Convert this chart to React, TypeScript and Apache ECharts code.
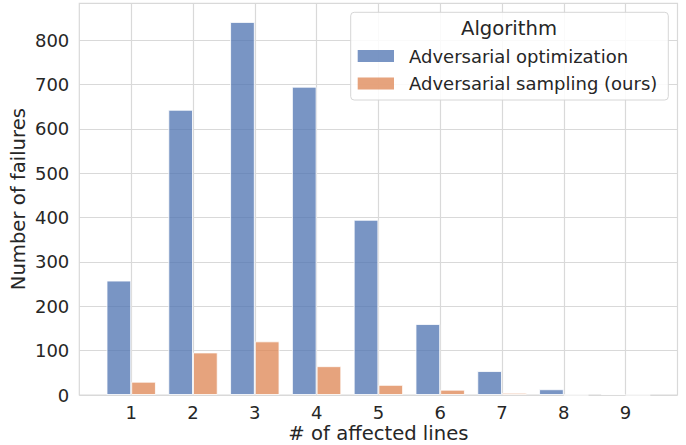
import React, { useEffect, useRef } from "react";
import * as echarts from "echarts";

const categories = [1, 2, 3, 4, 5, 6, 7, 8, 9];
const optimizationCounts = [258, 643, 841, 695, 395, 160, 54, 13, 2];
const samplingCounts = [30, 96, 121, 65, 23, 12, 5, 0, 0];
const seriesNames = ["Adversarial optimization", "Adversarial sampling (ours)"];
const yTicks = [0, 100, 200, 300, 400, 500, 600, 700, 800];

const W = 686;
const H = 445;
const GRID = { left: 79.3, right: 8.5, top: 3.3, bottom: 50 };
const X_MIN = 0.16;
const X_MAX = 9.84;
const Y_MAX = 883;
const FONT = "DejaVu Sans";
const TEXT = "#262626";
const GRIDC = "#d9d9d9";

export default function App() {
  const ref = useRef<HTMLDivElement>(null);
  useEffect(() => {
    document.body.style.margin = "0";
    const chart = echarts.init(ref.current!, null, { renderer: "svg" });
    const plotW = W - GRID.left - GRID.right;
    const barW = (0.4 * plotW) / (X_MAX - X_MIN);
    const mk = (vals: number[]) => categories.map((c, i) => [c, vals[i]]);
    chart.setOption({
      animation: false,
      backgroundColor: "#ffffff",
      textStyle: { fontFamily: FONT, color: TEXT },
      grid: {
        ...GRID,
        show: true,
        borderColor: GRIDC,
        borderWidth: 1.2,
        containLabel: false,
        outerBoundsMode: "none",
      },
      xAxis: {
        type: "value",
        min: X_MIN,
        max: X_MAX,
        name: "# of affected lines",
        nameLocation: "middle",
        nameMoveOverlap: false,
        nameGap: 28,
        nameTextStyle: { fontSize: 19.6, color: TEXT, fontFamily: FONT, lineHeight: 20 },
        axisLine: { show: false },
        axisTick: { show: false, customValues: categories },
        axisLabel: {
          customValues: categories,
          fontSize: 18,
          color: TEXT,
          fontFamily: FONT,
          margin: 8,
        },
        splitLine: { show: true, lineStyle: { color: GRIDC, width: 1.2 } },
      },
      yAxis: {
        type: "value",
        min: 0,
        max: Y_MAX,
        interval: 100,
        name: "Number of failures",
        nameLocation: "middle",
        nameMoveOverlap: false,
        nameGap: 50.5,
        nameTextStyle: { fontSize: 19.6, color: TEXT, fontFamily: FONT, lineHeight: 20 },
        axisLine: { show: false },
        axisTick: { show: false, customValues: yTicks },
        axisLabel: {
          customValues: yTicks,
          fontSize: 18,
          color: TEXT,
          fontFamily: FONT,
          margin: 10,
        },
        splitLine: { show: true, lineStyle: { color: GRIDC, width: 1.2 } },
      },
      legend: {
        orient: "vertical",
        left: 357.7,
        top: 46,
        padding: 0,
        itemWidth: 36.3,
        itemHeight: 12,
        itemGap: 7.5,
        icon: "rect",
        textStyle: {
          fontSize: 18,
          color: TEXT,
          fontFamily: FONT,
          lineHeight: 20,
          padding: [0, 0, 0, 10],
        },
        itemStyle: { borderWidth: 0 },
        data: seriesNames,
        z: 20,
      },
      graphic: [
        {
          type: "rect",
          z: 10,
          shape: { x: 350.7, y: 12.3, width: 317.6, height: 87.7, r: 3.5 },
          style: { fill: "rgba(255,255,255,0.85)", stroke: "#d6d6d6", lineWidth: 1 },
        },
        {
          type: "text",
          z: 11,
          x: 509,
          y: 28.3,
          style: {
            text: "Algorithm",
            fontSize: 19.6,
            fontFamily: FONT,
            fill: TEXT,
            align: "center",
            verticalAlign: "middle",
          },
        },
      ],
      series: [
        {
          name: seriesNames[0],
          type: "bar",
          data: mk(optimizationCounts),
          barWidth: barW,
          barGap: "0%",
          itemStyle: {
            color: "rgba(76,114,176,0.75)",
            borderColor: "rgba(255,255,255,0.8)",
            borderWidth: 1,
          },
        },
        {
          name: seriesNames[1],
          type: "bar",
          data: mk(samplingCounts),
          barWidth: barW,
          barGap: "0%",
          itemStyle: {
            color: "rgba(221,132,82,0.75)",
            borderColor: "rgba(255,255,255,0.8)",
            borderWidth: 1,
          },
        },
      ],
    });
    return () => chart.dispose();
  }, []);
  return <div ref={ref} style={{ width: W, height: H }} />;
}
